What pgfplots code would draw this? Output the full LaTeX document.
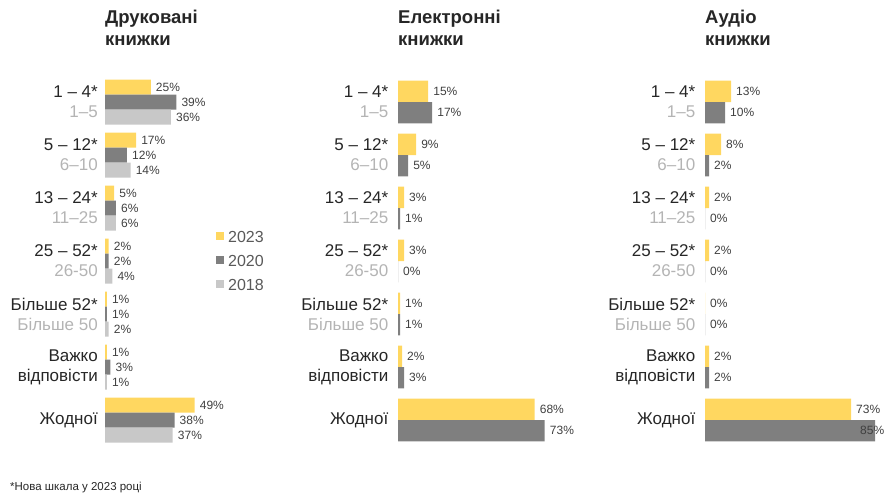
\documentclass[border=0pt]{standalone}
\usepackage{fontspec}
\setmainfont{Liberation Sans}
\usepackage{pgfplots}
\pgfplotsset{compat=1.18}
\definecolor{cy}{HTML}{FFD760}
\definecolor{cd}{HTML}{7F7F7F}
\definecolor{cl}{HTML}{C8C8C8}
\definecolor{tk}{HTML}{262626}
\definecolor{tg}{HTML}{B4B4B4}
\definecolor{vl}{HTML}{404040}
\definecolor{lg}{HTML}{595959}
\pgfplotsset{
 panel/.style={
  xbar, scale only axis, height=371bp, ymin=-0.5, ymax=6.5, y dir=reverse,
  xmin=0, enlarge x limits=false,
  /pgf/number format/assume math mode=true,
  axis line style={draw=none}, tick style={draw=none}, major tick length=0pt,
  xtick=\empty, ytick={0,...,6},
  yticklabels={{1 – 4*\\\textcolor{tg}{1–5}},{5 – 12*\\\textcolor{tg}{6–10}},{13 – 24*\\\textcolor{tg}{11–25}},{25 – 52*\\\textcolor{tg}{26-50}},{Більше 52*\\\textcolor{tg}{Більше 50}},{Важко\\відповісти},{Жодної}},
  yticklabel style={align=right, font=\fontsize{17bp}{20bp}\selectfont, text=tk, inner sep=0pt},
  clip=false,
  point meta=x,
  nodes near coords={\pgfmathprintnumber[assume math mode=true]{\pgfplotspointmeta}\%},
  nodes near coords style={font=\fontsize{12bp}{14bp}\selectfont, text=vl, anchor=west, xshift=5bp, inner sep=0pt},
  title style={at={(axis description cs:0,1)}, anchor=north west, align=left,
    font=\bfseries\fontsize{18.5bp}{22.5bp}\selectfont, text=tk, inner sep=0pt, yshift=60bp},
 }
}
\begin{document}
\begin{tikzpicture}
\useasboundingbox (0,0) rectangle (885bp,-493bp);
% Panel 1
\begin{axis}[panel, at={(105bp,-75.5bp)}, anchor=north west, width=91.5bp, xmax=50,
  yticklabel style={xshift=-7bp},
  title={Друковані\\книжки},
  legend style={at={(axis description cs:1.213,0.586)}, anchor=north west, draw=none, fill=none,
    font=\fontsize{16bp}{18bp}\selectfont, text=lg, inner sep=0pt, row sep=10bp, column sep=3bp,
    nodes={inner sep=1bp, text height=12bp, text depth=0bp}},
  legend cell align=left,
  legend image code/.code={\fill[#1] (0bp,-4bp) rectangle (8bp,4bp);}]
\addplot[fill=cy, draw=none, bar width=15bp, bar shift=15bp] coordinates {(25,0) (17,1) (5,2) (2,3) (1,4) (1,5) (49,6)};
\addplot[fill=cd, draw=none, bar width=15bp, bar shift=0bp] coordinates {(39,0) (12,1) (6,2) (2,3) (1,4) (3,5) (38,6)};
\addplot[fill=cl, draw=none, bar width=15bp, bar shift=-15bp] coordinates {(36,0) (14,1) (6,2) (4,3) (2,4) (1,5) (37,6)};
\legend{2023,2020,2018}
\end{axis}
% Panel 2
\begin{axis}[panel, at={(398bp,-75.5bp)}, anchor=north west, width=150.75bp, xmax=75,
  yticklabel style={xshift=-9.5bp},
  title={Електронні\\книжки}]
\addplot[fill=cy, draw=none, bar width=21.3bp, bar shift=10.65bp] coordinates {(15,0) (9,1) (3,2) (3,3) (1,4) (2,5) (68,6)};
\addplot[fill=cd, draw=none, bar width=21.3bp, bar shift=-10.65bp] coordinates {(17,0) (5,1) (1,2) (0,3) (1,4) (3,5) (73,6)};
\end{axis}
% Panel 3
\begin{axis}[panel, at={(705bp,-75.5bp)}, anchor=north west, width=170bp, xmax=85,
  yticklabel style={xshift=-9.5bp},
  title={Аудіо\\книжки}]
\addplot[fill=cy, draw=none, bar width=21.3bp, bar shift=10.65bp] coordinates {(13,0) (8,1) (2,2) (2,3) (0,4) (2,5) (73,6)};
\addplot[fill=cd, draw=none, bar width=21.3bp, bar shift=-10.65bp,
  coordinate style/.condition={x>80}{xshift=-20bp}] coordinates {(10,0) (2,1) (0,2) (0,3) (0,4) (2,5) (85,6)};
\end{axis}
\node[anchor=base west, font=\fontsize{11.5bp}{13bp}\selectfont, text=tk, inner sep=0pt] at (10bp,-490bp) {*Нова шкала у 2023 році};
\end{tikzpicture}
\end{document}
